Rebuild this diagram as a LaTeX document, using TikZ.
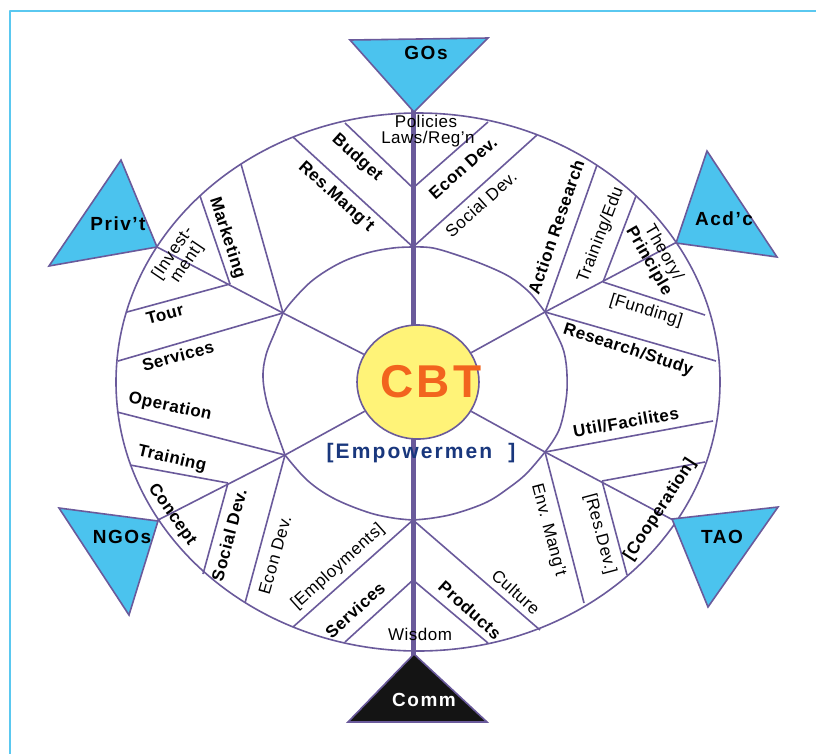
\documentclass[tikz,border=0pt]{standalone}
\usepackage{fontspec}
\setmainfont{Liberation Sans}
\usetikzlibrary{shapes.geometric}
\definecolor{pline}{RGB}{106,90,155}
\definecolor{tblue}{RGB}{75,195,238}
\definecolor{frameblue}{RGB}{90,200,240}
\definecolor{cbtyellow}{RGB}{255,243,120}
\definecolor{cbtorange}{RGB}{242,100,30}
\definecolor{empblue}{RGB}{25,55,125}
\newcommand{\lblfont}{\fontsize{17}{17}\selectfont\addfontfeatures{LetterSpace=3}}
\begin{document}
\begin{tikzpicture}[x=1pt,y=-1pt, line join=round,
  ln/.style={draw=pline, line width=1.6pt},
  lab/.style={font=\lblfont, inner sep=0pt, text=black, align=center},
  blab/.style={lab, font=\lblfont\bfseries},
  tri/.style={draw=pline, line width=1.6pt, fill=tblue, line join=miter},
  tlab/.style={font=\fontsize{19}{20}\selectfont\bfseries\addfontfeatures{LetterSpace=8}, inner sep=0pt}]
\useasboundingbox (0,0) rectangle (816,753);
\clip (0,0) rectangle (816,753);
\draw[frameblue, line width=2pt] (10,11) rectangle (840,780);

% outer ellipse
\draw[ln, fill=white] (418,382) ellipse [x radius=302pt, y radius=269pt];

% coordinates
\coordinate (hT) at (413,247);
\coordinate (hUL) at (283,313);
\coordinate (hUR) at (545,312);
\coordinate (hLL) at (285,455);
\coordinate (hLR) at (545,452);
\coordinate (hB) at (413,520);
\coordinate (aT) at (413,188);
\coordinate (aB) at (413,580);
\coordinate (bUL) at (230,284);
\coordinate (bUR) at (603,282);
\coordinate (bLL) at (228,483);
\coordinate (bLR) at (602,481);
\coordinate (e1) at (345,123);
\coordinate (e2) at (488,122);
\coordinate (e3) at (293,137);
\coordinate (e4) at (537,135);
\coordinate (e5) at (241,164);
\coordinate (e6) at (597,165);
\coordinate (e7) at (200,196);
\coordinate (e8) at (636,196);
\coordinate (vPriv) at (157,247);
\coordinate (vAcd) at (677,242);
\coordinate (e9) at (127,312);
\coordinate (e10) at (705,315);
\coordinate (e11) at (118,361);
\coordinate (e12) at (716,361);
\coordinate (e13) at (117,412);
\coordinate (e14) at (713,421);
\coordinate (e15) at (130,465);
\coordinate (e16) at (705,462);
\coordinate (vNGO) at (158,520);
\coordinate (vTAO) at (673,520);
\coordinate (e17) at (203,574);
\coordinate (e18) at (627,575);
\coordinate (e19) at (245,603);
\coordinate (e20) at (584,603);
\coordinate (e21) at (293,627);
\coordinate (e22) at (540,630);
\coordinate (e23) at (345,642);
\coordinate (e24) at (488,643);
\coordinate (axTop) at (413,110);
\coordinate (axBot) at (413,656);

% spokes
\draw[ln] (aT) -- (e1);
\draw[ln] (aT) -- (e2);
\draw[ln] (hT) -- (e3);
\draw[ln] (hT) -- (e4);
\draw[ln] (hUL) -- (e5);
\draw[ln] (hUR) -- (e6);
\draw[ln] (bUL) -- (e7);
\draw[ln] (bUR) -- (e8);
\draw[ln] (hUL) -- (vPriv);
\draw[ln] (hUR) -- (vAcd);
\draw[ln] (bUL) -- (e9);
\draw[ln] (bUR) -- (e10);
\draw[ln] (hUL) -- (e11);
\draw[ln] (hUR) -- (e12);
\draw[ln] (hLL) -- (e13);
\draw[ln] (hLR) -- (e14);
\draw[ln] (bLL) -- (e15);
\draw[ln] (bLR) -- (e16);
\draw[ln] (hLL) -- (vNGO);
\draw[ln] (hLR) -- (vTAO);
\draw[ln] (bLL) -- (e17);
\draw[ln] (bLR) -- (e18);
\draw[ln] (hLL) -- (e19);
\draw[ln] (hLR) -- (e20);
\draw[ln] (hB) -- (e21);
\draw[ln] (hB) -- (e22);
\draw[ln] (aB) -- (e23);
\draw[ln] (aB) -- (e24);

% inner wavy ring
\draw[ln] plot[smooth, tension=0.6] coordinates {(413,247) (433,248) (460,256) (487,266) (510,277) (527,290) (536,300) (545,312)};
\draw[ln] plot[smooth, tension=0.6] coordinates {(545,312) (556,333) (564,352) (567,375) (566,400) (559,430) (545,452)};
\draw[ln] plot[smooth, tension=0.6] coordinates {(545,452) (527,473) (510,487) (487,502) (457,513) (433,518) (413,520)};
\draw[ln] plot[smooth, tension=0.6] coordinates {(413,520) (393,518) (367,512) (333,498) (307,480) (285,455)};
\draw[ln] plot[smooth, tension=0.6] coordinates {(285,455) (276,430) (267,403) (263,377) (266,355) (275,332) (283,313)};
\draw[ln] plot[smooth, tension=0.6] coordinates {(283,313) (293,300) (313,280) (340,263) (367,253) (393,248) (413,247)};

% axis
\draw[pline, line width=5pt] (axTop) -- (axBot);

% CBT hub
\node[ellipse, draw=pline, line width=1.6pt, fill=cbtyellow, minimum width=122pt, minimum height=114pt, inner sep=0pt] (cbt) at (418,382) {};
\draw[ln] (hUL) -- (cbt);
\draw[ln] (hUR) -- (cbt);
\draw[ln] (hLL) -- (cbt);
\draw[ln] (hLR) -- (cbt);
\node[font=\fontsize{46}{48}\selectfont\bfseries\addfontfeatures{LetterSpace=8}, text=cbtorange, inner sep=0pt] (cbttext) at (431,382) {CBT};
\node[font=\fontsize{21}{22}\selectfont\bfseries\addfontfeatures{LetterSpace=10}, text=empblue, inner sep=0pt] (emp) at (421,453) {[Empowermen\hspace{16pt}]};

% triangles
\filldraw[tri] (350,40) -- (488,38) -- (414,112) -- cycle;
\node[tlab] (gos) at (426,53) {GOs};
\filldraw[tri] (121,160) -- (49,266) -- (157,247) -- cycle;
\node[tlab] (priv) at (118,224) {Priv’t};
\filldraw[tri] (707,151) -- (676,243) -- (777,257) -- cycle;
\node[tlab] (acd) at (724,219) {Acd’c};
\filldraw[tri] (59,508) -- (158,521) -- (129,615) -- cycle;
\node[tlab] (ngo) at (122,537) {NGOs};
\filldraw[tri] (672,519) -- (778,507) -- (708,607) -- cycle;
\node[tlab] (tao) at (722,537) {TAO};
\filldraw[tri, fill=black!92] (348,722) -- (487,722) -- (414,654) -- cycle;
\node[tlab, text=white] (comm) at (424,700) {Comm};

% labels
\node[lab] (pol) at (426,121) {Policies};
\node[lab] (laws) at (428,139) {Laws/Reg’n};
\node[blab, rotate=-42] (budget) at (357,158) {Budget};
\node[blab, rotate=-42] (resm) at (336,197) {Res.Mang’t};
\node[blab, rotate=42] (econT) at (463,168) {Econ Dev.};
\node[lab, rotate=42] (socT) at (481,204) {Social Dev.};
\node[blab, rotate=71] (act) at (556,227) {Action Research};
\node[lab, rotate=69] (train) at (601,235) {Training/Edu};
\node[lab, rotate=-60] (theory) at (656,257) {Theory/\\\bfseries Principle};
\node[lab, rotate=-17] (fund) at (646,311) {[Funding]};
\node[blab, rotate=-18] (rs) at (628,350) {Research/Study};
\node[blab, rotate=10] (util) at (626,422) {Util/Facilites};
\node[lab, rotate=-75] (env) at (548,530) {Env. Mang’t};
\node[lab, rotate=-75] (resd) at (600,534) {[Res.Dev.]};
\node[blab, rotate=57] (coop) at (660,510) {[Cooperation]};
\node[lab, rotate=-42] (cult) at (516,592) {Culture};
\node[blab, rotate=-42] (prod) at (470,610) {Products};
\node[lab] (wis) at (420,634) {Wisdom};
\node[blab, rotate=42] (servB) at (355,610) {Services};
\node[lab, rotate=42] (empl) at (338,567) {[Employments]};
\node[lab, rotate=74] (econB) at (275,555) {Econ Dev.};
\node[blab, rotate=75] (socB) at (229,535) {Social Dev.};
\node[blab, rotate=-55] (conc) at (172,515) {Concept};
\node[blab, rotate=-13] (trainL) at (172,459) {Training};
\node[blab, rotate=-12] (oper) at (170,407) {Operation};
\node[blab, rotate=15] (servL) at (178,356) {Services};
\node[blab, rotate=15] (tour) at (165,314) {Tour};
\node[lab, rotate=56] (inv) at (180,258) {[Invest-\\ment]};
\node[blab, rotate=-72] (mkt) at (227,238) {Marketing};
\end{tikzpicture}
\end{document}
